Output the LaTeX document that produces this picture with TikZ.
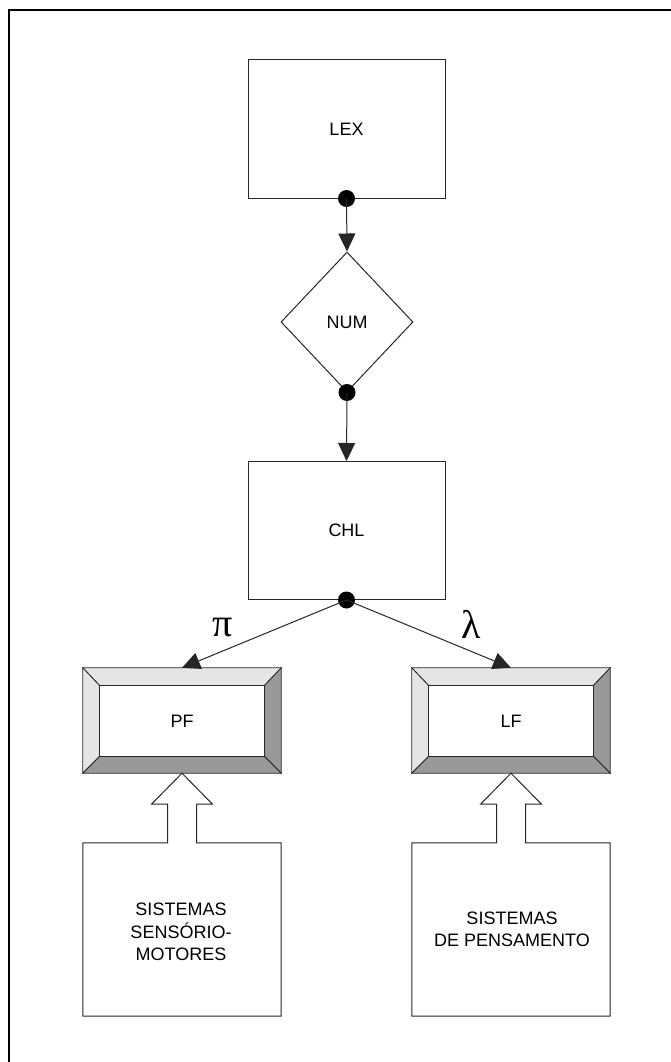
\documentclass[tikz,border=0pt]{standalone}
\usepackage{fontspec}
\setmainfont{Liberation Sans}
\newfontfamily\greekfont{Liberation Serif}
\usetikzlibrary{arrows.meta,shapes.geometric,calc}
\tikzset{
  ln/.style={draw=black!85, line width=1pt},
  box/.style={ln, rectangle, minimum width=197pt, minimum height=138pt, inner sep=0pt, font=\fontsize{18}{22}\selectfont},
  diam/.style={ln, diamond, minimum width=132pt, minimum height=140pt, inner sep=0pt, font=\fontsize{18}{22}\selectfont},
  dot/.style={circle, fill=black, minimum size=17pt, inner sep=0pt},
  arr/.style={ln, -{Triangle[length=18pt,width=17pt]}},
  outerb/.style={rectangle, minimum width=198pt, minimum height=105pt, inner sep=0pt},
  innerb/.style={rectangle, minimum width=164pt, minimum height=70pt, inner sep=0pt, font=\fontsize{18}{22}\selectfont},
  lightb/.style={ln, line width=0.8pt, fill=black!10},
  darkb/.style={ln, line width=0.8pt, fill=black!40},
  sysbox/.style={rectangle, minimum width=198pt, minimum height=173pt, inner sep=0pt, align=center},
  systext/.style={align=center, font=\fontsize{18}{22.5}\selectfont, inner sep=0pt},
  greek/.style={font=\greekfont\fontsize{40}{40}\selectfont, inner sep=0pt},
}
\begin{document}
\begin{tikzpicture}[x=1pt,y=-1pt]
\useasboundingbox (0,0) rectangle (670,1062);
\draw[line width=2pt, line cap=rect] (9,1063) -- (9,10) -- (671,10);

\node[box] (lex) at (346.5,129) {LEX};
\node[diam] (num) at (347,322) {NUM};
\node[box] (chl) at (346.5,530.5) {CHL};

\node[dot] (d1) at (lex.south) {};
\node[dot] (d2) at (num.south) {};
\node[dot] (d3) at (chl.south) {};

\draw[arr] (d1.center) -- (num.north);
\draw[arr] (d2.center) -- (chl.north);

\node[outerb] (pfo) at (182,720.5) {};
\node[innerb] (pf) at (182,721) {};
\node[outerb] (lfo) at (511,720.5) {};
\node[innerb] (lf) at (511,721) {};

\foreach \o/\i in {pfo/pf, lfo/lf}{
  \draw[lightb] (\o.north west) -- (\o.north east) -- (\i.north east) -- (\i.north west) -- cycle;
  \draw[lightb] (\o.north west) -- (\i.north west) -- (\i.south west) -- (\o.south west) -- cycle;
  \draw[darkb] (\o.north east) -- (\o.south east) -- (\i.south east) -- (\i.north east) -- cycle;
  \draw[darkb] (\o.south west) -- (\o.south east) -- (\i.south east) -- (\i.south west) -- cycle;
  \draw[ln, line width=0.8pt, fill=white] (\i.north west) rectangle (\i.south east);
}
\node[innerb] (pftext) at (pf) {PF};
\node[innerb] (lftext) at (lf) {LF};

\draw[arr] (d3.center) -- (pfo.north);
\draw[arr] (d3.center) -- (lfo.north);

\node[greek] (pi) at (223,628) {π};
\node[greek] (la) at (471,624) {λ};

\node[sysbox] (ssm) at (182,929.5) {};
\node[sysbox] (spe) at (511,929.5) {};
\node[systext] (ssmtext) at (181,932) {SISTEMAS\\SENSÓRIO-\\MOTORES};
\node[systext, font=\fontsize{18}{22}\selectfont] (spetext) at (512,929) {SISTEMAS\\DE PENSAMENTO};

\foreach \b/\t in {ssm/pfo, spe/lfo}{
  \draw[ln] (\b.north west) -- ($(\b.north)+(-14.5,0)$) -- ($(\t.south)+(-14.5,31)$) -- ($(\t.south)+(-30.5,31)$)
    -- (\t.south) -- ($(\t.south)+(30.5,31)$) -- ($(\t.south)+(14.5,31)$) -- ($(\b.north)+(14.5,0)$)
    -- (\b.north east) -- (\b.south east) -- (\b.south west) -- cycle;
}
\end{tikzpicture}
\end{document}
